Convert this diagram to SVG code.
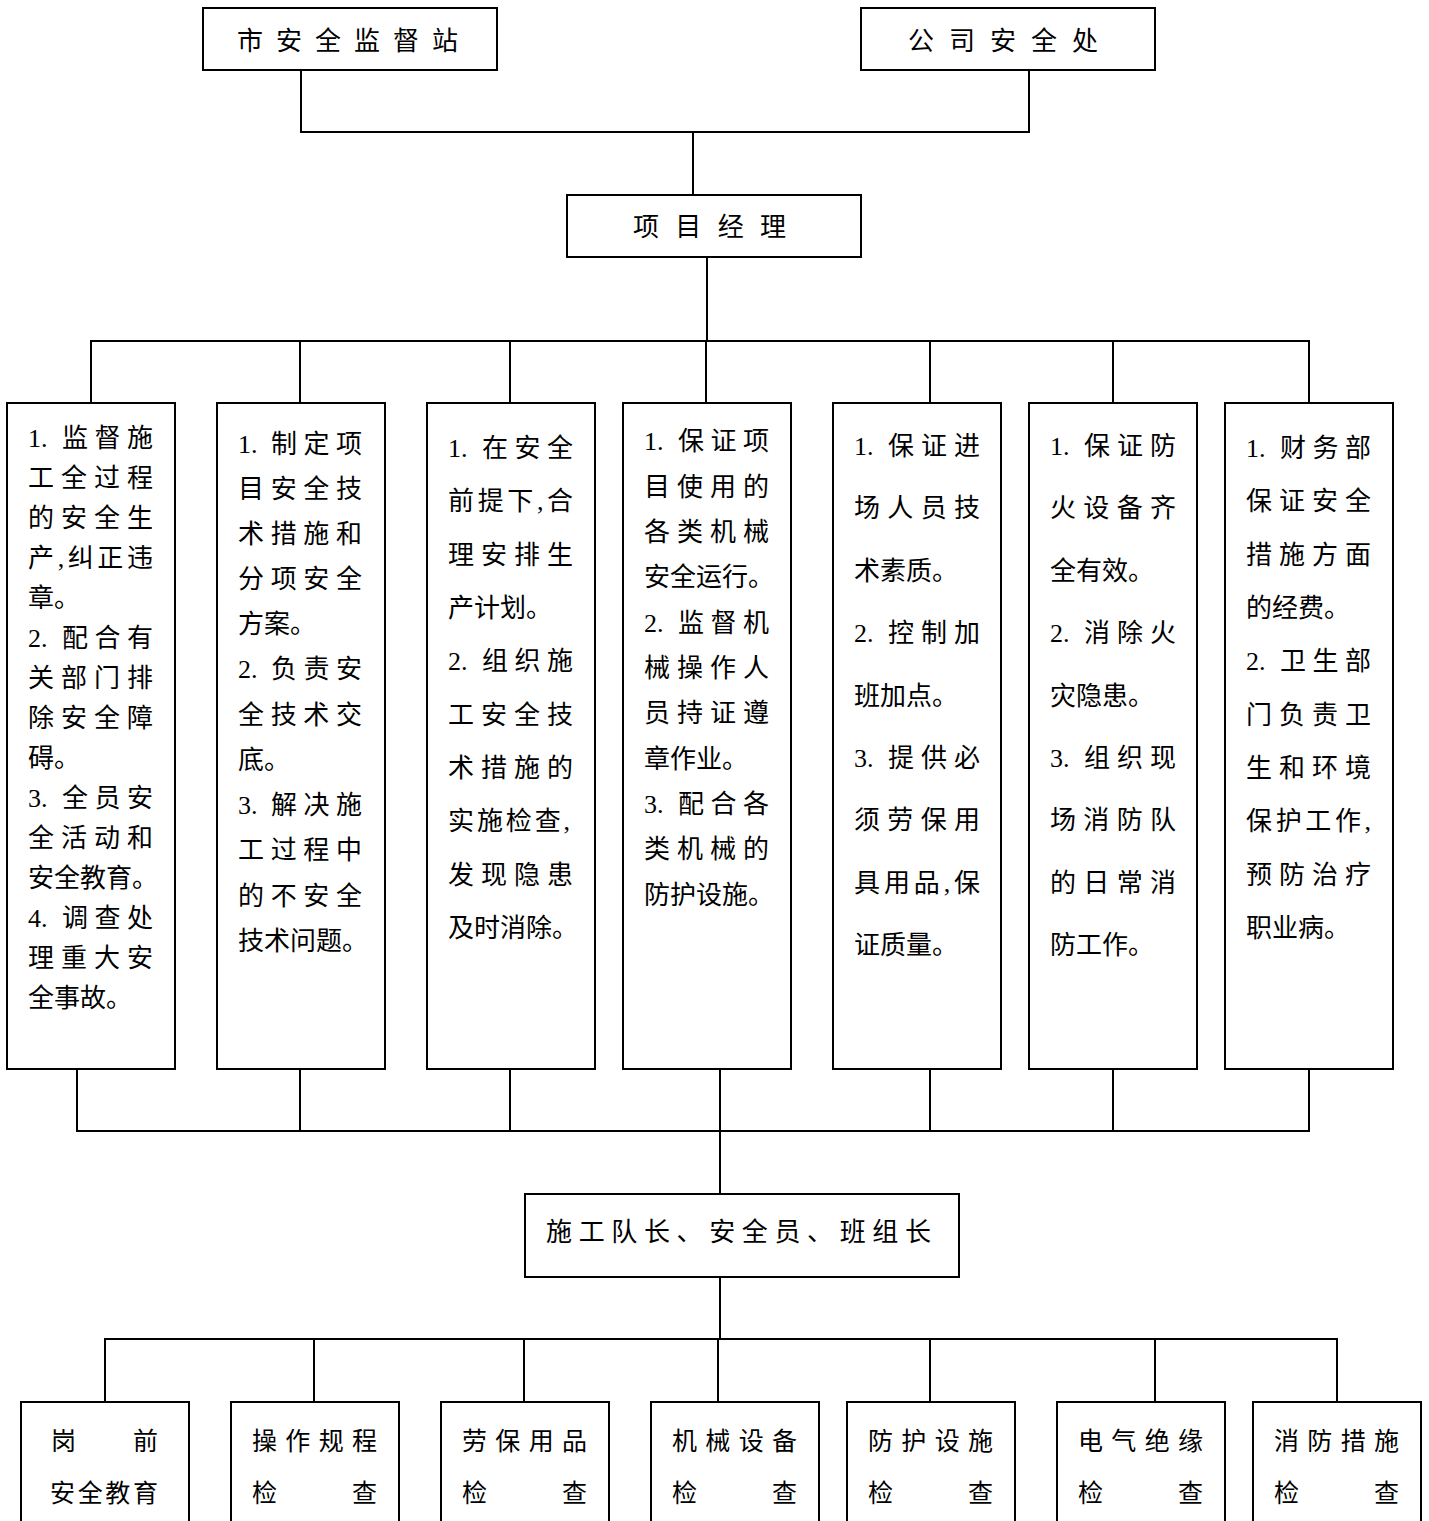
<svg xmlns="http://www.w3.org/2000/svg" width="1429" height="1521" viewBox="0 0 1429 1521">
<style>
.box{fill:#fff;stroke:#000;stroke-width:2}
.ln{fill:none;stroke:#000;stroke-width:2}
text{font-family:"Liberation Serif","Noto Sans CJK SC",serif;fill:#000}
.t{font-size:26px}
.h{font-size:26px}
.b{font-size:25px}
</style>
<rect width="1429" height="1521" fill="#fff"/>
<g id="connectors">
<path class="ln" d="M301,70V132M1029,70V132M300,132H1030M693,132V195"/>
<path class="ln" d="M707,257V341M90,341H1310M91,341V403M300,341V403M510,341V403M706,341V403M930,341V403M1113,341V403M1309,341V403"/>
<path class="ln" d="M77,1069V1131M300,1069V1131M510,1069V1131M720,1069V1131M930,1069V1131M1113,1069V1131M1309,1069V1131M76,1131H1310M720,1131V1194"/>
<path class="ln" d="M720,1277V1339M104,1339H1338M105,1339V1402M314,1339V1402M524,1339V1402M718,1339V1402M930,1339V1402M1155,1339V1402M1337,1339V1402"/>
</g>
<g id="n-shi">
<rect class="box" x="203" y="8" width="294" height="62"/>
<text class="h" x="237" y="50" textLength="221" lengthAdjust="spacing">市安全监督站</text>
</g>
<g id="n-gongsi">
<rect class="box" x="861" y="8" width="294" height="62"/>
<text class="h" x="908" y="50" textLength="190" lengthAdjust="spacing">公司安全处</text>
</g>
<g id="n-xiangmu">
<rect class="box" x="567" y="195" width="294" height="62"/>
<text class="h" x="633" y="236" textLength="153" lengthAdjust="spacing">项目经理</text>
</g>
<g id="n-col1">
<rect class="box" x="7" y="403" width="168" height="666"/>
<g class="t">
<text x="28" y="447">1.</text><text x="62" y="447" textLength="91" lengthAdjust="spacing">监督施</text>
<text x="28" y="487" textLength="125" lengthAdjust="spacing">工全过程</text>
<text x="28" y="527" textLength="125" lengthAdjust="spacing">的安全生</text>
<text x="28" y="567" textLength="125" lengthAdjust="spacing">产,纠正违</text>
<text x="28" y="607">章。</text>
<text x="28" y="647">2.</text><text x="62" y="647" textLength="91" lengthAdjust="spacing">配合有</text>
<text x="28" y="687" textLength="125" lengthAdjust="spacing">关部门排</text>
<text x="28" y="727" textLength="125" lengthAdjust="spacing">除安全障</text>
<text x="28" y="767">碍。</text>
<text x="28" y="807">3.</text><text x="62" y="807" textLength="91" lengthAdjust="spacing">全员安</text>
<text x="28" y="847" textLength="125" lengthAdjust="spacing">全活动和</text>
<text x="28" y="887">安全教育。</text>
<text x="28" y="927">4.</text><text x="62" y="927" textLength="91" lengthAdjust="spacing">调查处</text>
<text x="28" y="967" textLength="125" lengthAdjust="spacing">理重大安</text>
<text x="28" y="1007">全事故。</text>
</g>
</g>
<g id="n-col2">
<rect class="box" x="217" y="403" width="168" height="666"/>
<g class="t">
<text x="238" y="453">1.</text><text x="271" y="453" textLength="91" lengthAdjust="spacing">制定项</text>
<text x="238" y="498" textLength="124" lengthAdjust="spacing">目安全技</text>
<text x="238" y="543" textLength="124" lengthAdjust="spacing">术措施和</text>
<text x="238" y="588" textLength="124" lengthAdjust="spacing">分项安全</text>
<text x="238" y="633">方案。</text>
<text x="238" y="678">2.</text><text x="271" y="678" textLength="91" lengthAdjust="spacing">负责安</text>
<text x="238" y="724" textLength="124" lengthAdjust="spacing">全技术交</text>
<text x="238" y="769">底。</text>
<text x="238" y="814">3.</text><text x="271" y="814" textLength="91" lengthAdjust="spacing">解决施</text>
<text x="238" y="859" textLength="124" lengthAdjust="spacing">工过程中</text>
<text x="238" y="905" textLength="124" lengthAdjust="spacing">的不安全</text>
<text x="238" y="950">技术问题。</text>
</g>
</g>
<g id="n-col3">
<rect class="box" x="427" y="403" width="168" height="666"/>
<g class="t">
<text x="448" y="457">1.</text><text x="482" y="457" textLength="91" lengthAdjust="spacing">在安全</text>
<text x="448" y="510" textLength="125" lengthAdjust="spacing">前提下,合</text>
<text x="448" y="564" textLength="125" lengthAdjust="spacing">理安排生</text>
<text x="448" y="617">产计划。</text>
<text x="448" y="670">2.</text><text x="482" y="670" textLength="91" lengthAdjust="spacing">组织施</text>
<text x="448" y="724" textLength="125" lengthAdjust="spacing">工安全技</text>
<text x="448" y="777" textLength="125" lengthAdjust="spacing">术措施的</text>
<text x="448" y="830" textLength="122" lengthAdjust="spacing">实施检查,</text>
<text x="448" y="884" textLength="125" lengthAdjust="spacing">发现隐患</text>
<text x="448" y="937">及时消除。</text>
</g>
</g>
<g id="n-col4">
<rect class="box" x="623" y="403" width="168" height="666"/>
<g class="t">
<text x="644" y="450">1.</text><text x="678" y="450" textLength="91" lengthAdjust="spacing">保证项</text>
<text x="644" y="496" textLength="125" lengthAdjust="spacing">目使用的</text>
<text x="644" y="541" textLength="125" lengthAdjust="spacing">各类机械</text>
<text x="644" y="586">安全运行。</text>
<text x="644" y="632">2.</text><text x="678" y="632" textLength="91" lengthAdjust="spacing">监督机</text>
<text x="644" y="677" textLength="125" lengthAdjust="spacing">械操作人</text>
<text x="644" y="722" textLength="125" lengthAdjust="spacing">员持证遵</text>
<text x="644" y="768">章作业。</text>
<text x="644" y="813">3.</text><text x="678" y="813" textLength="91" lengthAdjust="spacing">配合各</text>
<text x="644" y="858" textLength="125" lengthAdjust="spacing">类机械的</text>
<text x="644" y="904">防护设施。</text>
</g>
</g>
<g id="n-col5">
<rect class="box" x="833" y="403" width="168" height="666"/>
<g class="t">
<text x="854" y="455">1.</text><text x="888" y="455" textLength="92" lengthAdjust="spacing">保证进</text>
<text x="854" y="517" textLength="126" lengthAdjust="spacing">场人员技</text>
<text x="854" y="580">术素质。</text>
<text x="854" y="642">2.</text><text x="888" y="642" textLength="92" lengthAdjust="spacing">控制加</text>
<text x="854" y="705">班加点。</text>
<text x="854" y="767">3.</text><text x="888" y="767" textLength="92" lengthAdjust="spacing">提供必</text>
<text x="854" y="829" textLength="126" lengthAdjust="spacing">须劳保用</text>
<text x="854" y="892" textLength="126" lengthAdjust="spacing">具用品,保</text>
<text x="854" y="954">证质量。</text>
</g>
</g>
<g id="n-col6">
<rect class="box" x="1029" y="403" width="168" height="666"/>
<g class="t">
<text x="1050" y="455">1.</text><text x="1084" y="455" textLength="92" lengthAdjust="spacing">保证防</text>
<text x="1050" y="517" textLength="126" lengthAdjust="spacing">火设备齐</text>
<text x="1050" y="580">全有效。</text>
<text x="1050" y="642">2.</text><text x="1084" y="642" textLength="92" lengthAdjust="spacing">消除火</text>
<text x="1050" y="705">灾隐患。</text>
<text x="1050" y="767">3.</text><text x="1084" y="767" textLength="92" lengthAdjust="spacing">组织现</text>
<text x="1050" y="829" textLength="126" lengthAdjust="spacing">场消防队</text>
<text x="1050" y="892" textLength="126" lengthAdjust="spacing">的日常消</text>
<text x="1050" y="954">防工作。</text>
</g>
</g>
<g id="n-col7">
<rect class="box" x="1225" y="403" width="168" height="666"/>
<g class="t">
<text x="1246" y="457">1.</text><text x="1280" y="457" textLength="91" lengthAdjust="spacing">财务部</text>
<text x="1246" y="510" textLength="125" lengthAdjust="spacing">保证安全</text>
<text x="1246" y="564" textLength="125" lengthAdjust="spacing">措施方面</text>
<text x="1246" y="617">的经费。</text>
<text x="1246" y="670">2.</text><text x="1280" y="670" textLength="91" lengthAdjust="spacing">卫生部</text>
<text x="1246" y="724" textLength="125" lengthAdjust="spacing">门负责卫</text>
<text x="1246" y="777" textLength="125" lengthAdjust="spacing">生和环境</text>
<text x="1246" y="830" textLength="125" lengthAdjust="spacing">保护工作,</text>
<text x="1246" y="884" textLength="125" lengthAdjust="spacing">预防治疗</text>
<text x="1246" y="937">职业病。</text>
</g>
</g>
<g id="n-shigong">
<rect class="box" x="525" y="1194" width="434" height="83"/>
<text class="h" x="546" y="1241" textLength="385" lengthAdjust="spacing">施工队长、安全员、班组长</text>
</g>
<g id="n-b1">
<rect class="box" x="21" y="1402" width="168" height="130"/>
<text class="b" x="51" y="1450" textLength="107" lengthAdjust="spacing">岗前</text>
<text class="b" x="50" y="1502" textLength="108" lengthAdjust="spacing">安全教育</text>
</g>
<g id="n-b2">
<rect class="box" x="231" y="1402" width="168" height="130"/>
<text class="b" x="252" y="1450" textLength="125" lengthAdjust="spacing">操作规程</text>
<text class="b" x="252" y="1502" textLength="125" lengthAdjust="spacing">检查</text>
</g>
<g id="n-b3">
<rect class="box" x="441" y="1402" width="168" height="130"/>
<text class="b" x="462" y="1450" textLength="125" lengthAdjust="spacing">劳保用品</text>
<text class="b" x="462" y="1502" textLength="125" lengthAdjust="spacing">检查</text>
</g>
<g id="n-b4">
<rect class="box" x="651" y="1402" width="168" height="130"/>
<text class="b" x="672" y="1450" textLength="125" lengthAdjust="spacing">机械设备</text>
<text class="b" x="672" y="1502" textLength="125" lengthAdjust="spacing">检查</text>
</g>
<g id="n-b5">
<rect class="box" x="847" y="1402" width="168" height="130"/>
<text class="b" x="868" y="1450" textLength="125" lengthAdjust="spacing">防护设施</text>
<text class="b" x="868" y="1502" textLength="125" lengthAdjust="spacing">检查</text>
</g>
<g id="n-b6">
<rect class="box" x="1057" y="1402" width="168" height="130"/>
<text class="b" x="1078" y="1450" textLength="125" lengthAdjust="spacing">电气绝缘</text>
<text class="b" x="1078" y="1502" textLength="125" lengthAdjust="spacing">检查</text>
</g>
<g id="n-b7">
<rect class="box" x="1253" y="1402" width="168" height="130"/>
<text class="b" x="1274" y="1450" textLength="125" lengthAdjust="spacing">消防措施</text>
<text class="b" x="1274" y="1502" textLength="125" lengthAdjust="spacing">检查</text>
</g>
</svg>
